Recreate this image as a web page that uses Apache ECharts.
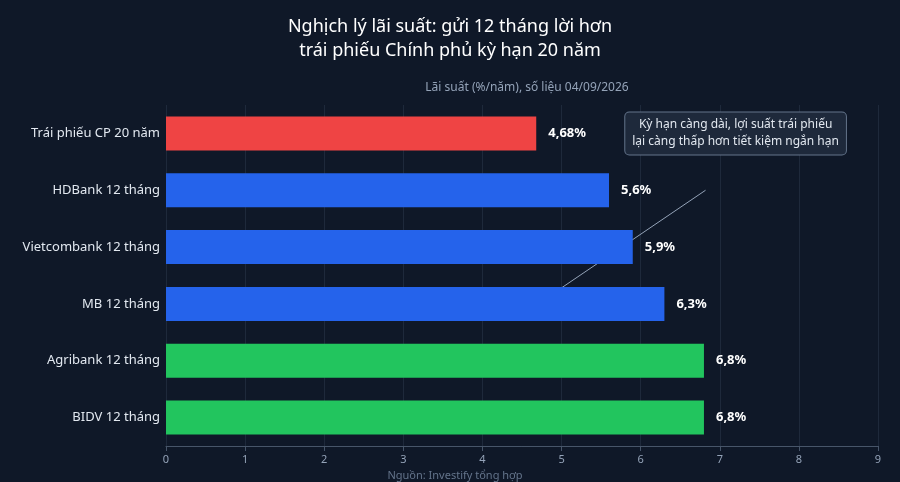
<!DOCTYPE html><html><head><meta charset="utf-8"><script src="https://cdn.jsdelivr.net/npm/echarts@6/dist/echarts.min.js"></script>
<style>html,body{margin:0;background:#0f1828}#c{width:900px;height:482px}</style></head><body><div id="c"></div><script>
const categories=['Trái phiếu CP 20 năm','HDBank 12 tháng','Vietcombank 12 tháng','MB 12 tháng','Agribank 12 tháng','BIDV 12 tháng'];
const values=[4.68,5.6,5.9,6.3,6.8,6.8];
const labels=['4,68%','5,6%','5,9%','6,3%','6,8%','6,8%'];
const colors=['#ef4444','#2563eb','#2563eb','#2563eb','#22c55e','#22c55e'];
const xTicks=[0,1,2,3,4,5,6,7,8,9];
const F='Noto Sans';
const ch=echarts.init(document.getElementById('c'));
ch.setOption({backgroundColor:'#0f1828',textStyle:{fontFamily:F},
title:[{text:'Nghịch lý lãi suất: gửi 12 tháng lời hơn\ntrái phiếu Chính phủ kỳ hạn 20 năm',left:'center',top:10,textStyle:{color:'#fff',fontSize:18,fontWeight:'normal',lineHeight:24,fontFamily:F}},
{text:'Lãi suất (%/năm), số liệu 04/09/2026',left:522,textAlign:'center',top:77,textStyle:{color:'#94a3b8',fontSize:12,fontWeight:'normal',fontFamily:F}},
{text:'Nguồn: Investify tổng hợp',left:450,textAlign:'center',top:465,textStyle:{color:'#64748b',fontSize:11,fontWeight:'normal',fontFamily:F}}],
grid:{left:166,right:22,top:105,bottom:36},
xAxis:{type:'value',min:0,max:9,interval:1,axisLine:{show:true,lineStyle:{color:'#475569'}},axisTick:{show:true,lineStyle:{color:'#475569'}},axisLabel:{color:'#94a3b8',fontSize:11,formatter:v=>xTicks.includes(v)?String(v):''},splitLine:{lineStyle:{color:'#1e293b'}}},
yAxis:{type:'category',data:categories,inverse:true,axisLine:{show:false},axisTick:{show:false},axisLabel:{color:'#e2e8f0',fontSize:13,margin:6}},
series:[{type:'bar',barWidth:34,data:values.map((v,i)=>({value:v,itemStyle:{color:colors[i]}})),
label:{show:true,position:'right',distance:12,color:'#fff',fontWeight:'bold',fontSize:13,formatter:p=>labels[p.dataIndex]}}]});
const s=ch.convertToPixel({seriesIndex:0},[6.82,0.67]);
const e=ch.convertToPixel({seriesIndex:0},[4.7,2.93]);
const b=ch.convertToPixel({seriesIndex:0},[7.2,0.35]);
ch.setOption({graphic:[
{type:'line',shape:{x1:s[0],y1:s[1],x2:e[0],y2:e[1]},style:{stroke:'#94a3b8',lineWidth:1}},
{type:'polygon',shape:{points:(()=>{const a=Math.atan2(e[1]-s[1],e[0]-s[0]);const L=8,W=3.5;return [[e[0],e[1]],[e[0]-L*Math.cos(a)+W*Math.sin(a),e[1]-L*Math.sin(a)-W*Math.cos(a)],[e[0]-L*Math.cos(a)-W*Math.sin(a),e[1]-L*Math.sin(a)+W*Math.cos(a)]]})()},style:{fill:'#94a3b8'}},
{type:'text',x:b[0],y:b[1],style:{text:'Kỳ hạn càng dài, lợi suất trái phiếu\nlại càng thấp hơn tiết kiệm ngắn hạn',fill:'#e2e8f0',font:'12px "Noto Sans"',align:'center',verticalAlign:'middle',lineHeight:17,backgroundColor:'#1e293b',borderColor:'#64748b',borderWidth:1,borderRadius:4,padding:[4,7]}}]});
</script></body></html>
